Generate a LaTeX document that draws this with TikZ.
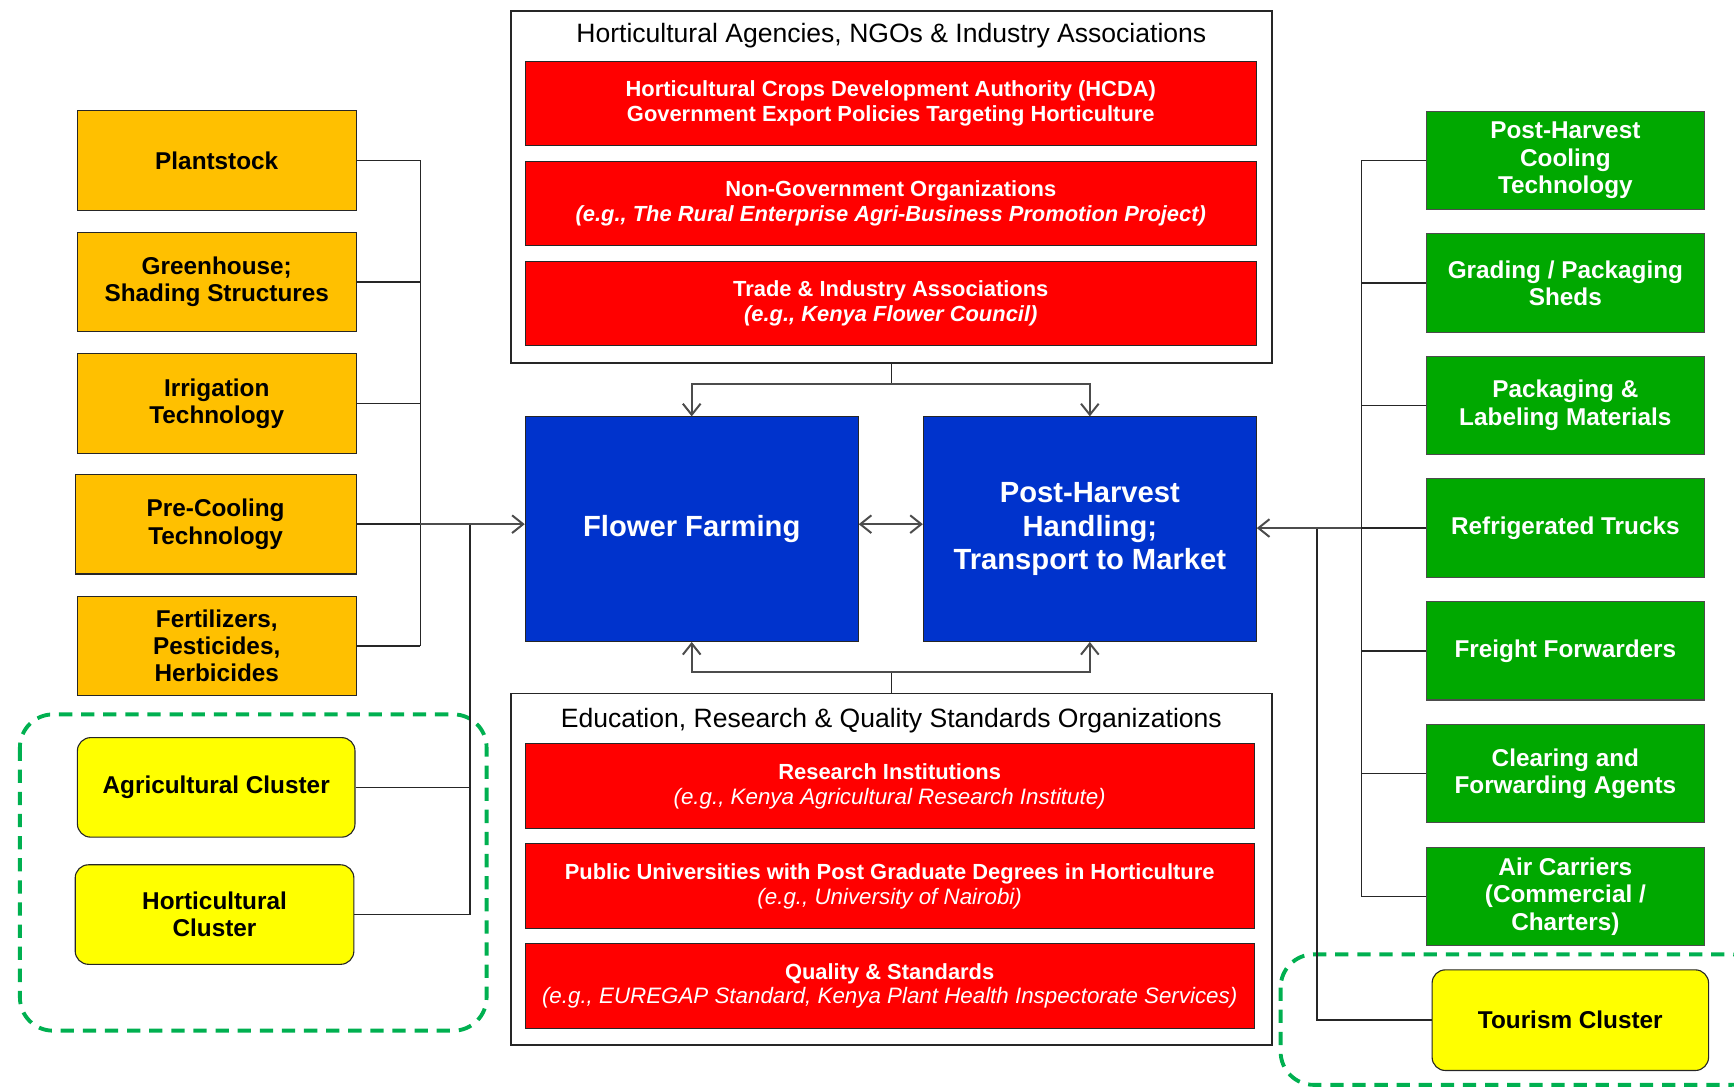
\documentclass[tikz,border=0pt]{standalone}
\usepackage{fontspec}
\setmainfont{Liberation Sans}
\usetikzlibrary{arrows.meta}
\definecolor{cOrange}{RGB}{255,192,0}
\definecolor{cRed}{RGB}{255,0,0}
\definecolor{cBlue}{RGB}{0,51,204}
\definecolor{cGreen}{RGB}{0,168,0}
\definecolor{cYellow}{RGB}{255,255,0}
\definecolor{cDash}{RGB}{0,176,80}
\newcommand{\lightit}[1]{{\fontsize{20.2}{22.5}\selectfont\mdseries\itshape #1}}
\begin{document}
\begin{tikzpicture}[x=1pt,y=-1pt,
  base/.style={draw=black!85, line width=1pt, inner sep=0pt, align=center},
  obox/.style={base, fill=cOrange, minimum width=252pt, minimum height=90pt,
    font=\fontsize{22}{24.8}\selectfont\bfseries},
  gbox/.style={base, draw=black!70, fill=cGreen, text=white, minimum width=251pt, minimum height=89pt,
    font=\fontsize{22}{24.8}\selectfont\bfseries},
  ybox/.style={base, fill=cYellow, rounded corners=12pt, minimum width=251pt, minimum height=90pt,
    font=\fontsize{22}{24.8}\selectfont\bfseries},
  rbox/.style={base, fill=cRed, text=white, minimum width=661pt, minimum height=76pt,
    font=\fontsize{19.8}{22.5}\selectfont\bfseries},
  bbox/.style={base, fill=cBlue, text=white, minimum width=301pt, minimum height=203pt,
    font=\fontsize{26.4}{30.5}\selectfont\bfseries},
  cont/.style={draw=black!85, line width=1.5pt, fill=white, inner sep=0pt, minimum width=688pt, minimum height=318pt},
  ttl/.style={inner sep=0pt, font=\fontsize{24}{26}\selectfont},
  conn/.style={draw=black!85, line width=1.3pt},
  arr/.style={draw=black!70, line width=1.8pt, -{Straight Barb[length=10pt,width=16pt,line width=1.8pt]}},
  arrb/.style={draw=black!70, line width=1.8pt, {Straight Barb[length=10pt,width=16pt,line width=1.8pt]}-{Straight Barb[length=10pt,width=16pt,line width=1.8pt]}},
  gdash/.style={draw=cDash, line width=3.5pt, dash pattern=on 12pt off 8pt, rounded corners=30pt}
]
\useasboundingbox (0,0) rectangle (1568,984);
\clip (0,0) rectangle (1568,984);

% bus coordinates
\coordinate (lbus) at (380,0);
\coordinate (lbus2) at (425,0);
\coordinate (rbus) at (1231,0);
\coordinate (rbus2) at (1191,0);
\coordinate (tj) at (806,347);
\coordinate (bj) at (806,608);
\coordinate (mid) at (0,474);

% dashed cluster groups
\draw[gdash] (18,646) rectangle (440,932);
\draw[gdash] (1158,863) rectangle (1595,981);

% containers
\node (top) [cont] at (806,169) {};
\node (toptitle) [ttl] at (806,32) {Horticultural Agencies, NGOs \& Industry Associations};
\node (r1) [rbox] at (805.5,93.5) {Horticultural Crops Development Authority (HCDA)\\Government Export Policies Targeting Horticulture};
\node (r2) [rbox] at (805.5,184) {Non-Government Organizations\\\textit{(e.g., The Rural Enterprise Agri-Business Promotion Project)}};
\node (r3) [rbox] at (805.5,274.5) {Trade \& Industry Associations\\\textit{(e.g., Kenya Flower Council)}};

\node (bot) [cont] at (806,786) {};
\node (bottitle) [ttl] at (806,652) {Education, Research \& Quality Standards Organizations};
\node (r4) [rbox, minimum width=659pt, minimum height=77pt] at (804.5,711) {Research Institutions\\\lightit{(e.g., Kenya Agricultural Research Institute)}};
\node (r5) [rbox, minimum width=659pt, minimum height=77pt] at (804.5,801.5) {Public Universities with Post Graduate Degrees in Horticulture\\\lightit{(e.g., University of Nairobi)}};
\node (r6) [rbox, minimum width=659pt, minimum height=77pt] at (804.5,891.5) {Quality \& Standards\\\lightit{(e.g., EUREGAP Standard, Kenya Plant Health Inspectorate Services)}};

% central blue boxes
\node (ff) [bbox] at (625.5,478.5) {Flower Farming};
\node (ph) [bbox] at (985.5,478.5) {Post-Harvest\\Handling;\\Transport to Market};

% left boxes
\node (o1) [obox] at (196,145) {Plantstock};
\node (o2) [obox] at (196,255) {Greenhouse;\\Shading Structures};
\node (o3) [obox] at (196,365) {Irrigation\\Technology};
\node (o4) [obox, minimum width=254pt] at (195,474) {Pre-Cooling\\Technology};
\node (o5) [obox] at (196,584) {Fertilizers,\\Pesticides,\\Herbicides};
\node (ac) [ybox] at (195.5,712) {Agricultural Cluster};
\node (hc) [ybox, minimum width=252pt] at (194,827) {Horticultural\\Cluster};

% right boxes
\node (g1) [gbox] at (1415.5,145) {Post-Harvest\\Cooling\\Technology};
\node (g2) [gbox] at (1415.5,256) {Grading / Packaging\\Sheds};
\node (g3) [gbox] at (1415.5,366.5) {Packaging \&\\Labeling Materials};
\node (g4) [gbox] at (1415.5,477.5) {Refrigerated Trucks};
\node (g5) [gbox] at (1415.5,588.5) {Freight Forwarders};
\node (g6) [gbox] at (1415.5,699.5) {Clearing and\\Forwarding Agents};
\node (g7) [gbox] at (1415.5,810.5) {Air Carriers\\(Commercial /\\Charters)};
\node (tc) [ybox, minimum width=250pt, minimum height=91pt] at (1420,922.5) {Tourism Cluster};

% left connectors
\foreach \n in {o1,o2,o3,o4,o5}{\draw[conn] (\n.east) -- (\n.east -| lbus);}
\draw[conn] (o1.east -| lbus) -- (o5.east -| lbus);
\draw[conn] (o4.east -| lbus2) -- (hc.east -| lbus2);
\draw[conn] (ac.east) -- (ac.east -| lbus2);
\draw[conn] (hc.east) -- (hc.east -| lbus2);
\draw[arr] (o4.east -| lbus) -- (o4.east -| ff.west);

% right connectors
\foreach \n in {g1,g2,g3,g4,g5,g6,g7}{\draw[conn] (\n.west) -- (\n.west -| rbus);}
\draw[conn] (g1.west -| rbus) -- (g7.west -| rbus);
\draw[conn] (g4.west -| rbus2) -- (tc.west -| rbus2) -- (tc.west);
\draw[arr] (g4.west -| rbus) -- (g4.west -| ph.east);

% top and bottom connectors
\draw[conn] (top.south) -- (tj);
\draw[arr] (tj) -| (ff.north);
\draw[arr] (tj) -| (ph.north);
\draw[conn] (bot.north) -- (bj);
\draw[arr] (bj) -| (ff.south);
\draw[arr] (bj) -| (ph.south);

% between blue boxes
\draw[arrb] (mid -| ff.east) -- (mid -| ph.west);
\end{tikzpicture}
\end{document}
